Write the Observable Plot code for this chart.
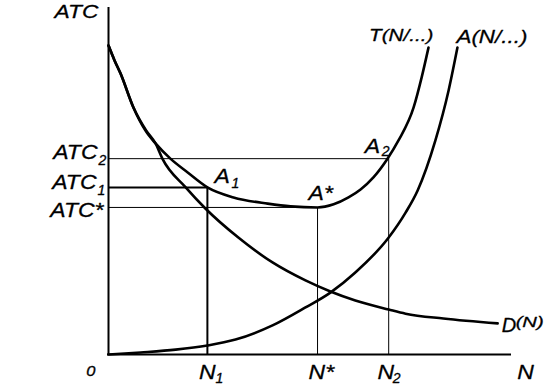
<!DOCTYPE html>
<html><head><meta charset="utf-8">
<script src="https://cdn.jsdelivr.net/npm/d3@7"></script>
<script src="https://cdn.jsdelivr.net/npm/@observablehq/plot@0.6"></script>
<style>html,body{margin:0;padding:0;background:#fff;} #chart svg{display:block;}</style>
</head><body><div id="chart"></div>
<script>
// Curve T(N/...) : average total cost
const tN   = [0, 0.15, 0.30, 0.62, 0.92, 1.17, 1.54, 1.97, 2.46, 3.11, 3.96, 4.53, 5.20, 5.60, 5.97, 6.27, 6.59, 6.94, 7.21, 7.59, 7.79, 7.96];
const tATC = [8.93, 8.50, 8.12, 7.14, 6.47, 6.10, 5.66, 5.26, 4.83, 4.54, 4.36, 4.28, 4.25, 4.34, 4.54, 4.77, 5.12, 5.66, 6.18, 7.14, 8.01, 8.87];
// Curve D(N)
const dN   = [0, 0.15, 0.30, 0.62, 0.94, 1.17, 1.34, 1.92, 2.41, 3.23, 4.08, 4.90, 5.52, 6.14, 6.97, 7.39, 8.33, 9.68];
const dATC = [8.93, 8.50, 8.12, 7.14, 6.47, 6.10, 5.66, 4.83, 4.22, 3.38, 2.66, 2.14, 1.82, 1.56, 1.30, 1.18, 1.04, 0.90];
// Curve A(N/...)
const aN   = [0, 0.80, 1.67, 2.46, 3.16, 4.08, 4.90, 5.52, 6.14, 6.97, 7.39, 7.69, 8.13, 8.46, 8.68];
const aATC = [0, 0.06, 0.14, 0.26, 0.43, 0.84, 1.36, 1.79, 2.37, 3.38, 4.10, 4.74, 6.18, 7.63, 8.87];

// Marked quantities and cost levels
const nMarks   = [2.46, 5.20, 6.97];   // N1, N*, N2
const atcMarks = [4.83, 4.25, 5.66];   // ATC1, ATC*, ATC2
const nMax = 10, atcMax = 10;

// Texts
const axisTitles  = ["ATC", "N", "0"];
const atcNames    = ["ATC", "ATC*", "ATC"];
const atcSubs     = ["1", "", "2"];
const nNames      = ["N", "N*", "N"];
const nSubs       = ["1", "", "2"];
const pointNames  = ["A", "A*", "A"];
const pointSubs   = ["1", "", "2"];
const curveNames  = ["T(N/...)", "A(N/...)", "D", "(N)"];

const tbl = (xs, ys) => xs.map((x, i) => ({x, y: ys[i]}));
const FONT = "'Liberation Sans', Arial, Helvetica, sans-serif";
const stretch = [];

function lab(x, y, text, {dx = 0, dy = 0, size = 20, anchor = "start", sx = 1.15} = {}) {
  stretch.push(sx);
  return Plot.text([0], {
    x: [x], y: [y], text: [text], dx, dy,
    fontSize: size, fontStyle: "italic", textAnchor: anchor,
    lineAnchor: "bottom", fill: "black", stroke: "black", strokeWidth: 0.3,
    fontFamily: FONT
  });
}

const [N1, Ns, N2] = nMarks;
const [A1, As, A2] = atcMarks;

const chart = Plot.plot({
  width: 548, height: 385,
  marginLeft: 108, marginRight: 38, marginTop: 8, marginBottom: 31,
  x: {domain: [0, nMax], axis: null},
  y: {domain: [0, atcMax], axis: null},
  style: {fontFamily: FONT, background: "white", overflow: "visible"},
  marks: [
    // guide lines
    Plot.ruleY([A2], {x1: 0, x2: N2, stroke: "black", strokeWidth: 1}),
    Plot.ruleY([A1], {x1: 0, x2: N1, stroke: "black", strokeWidth: 2}),
    Plot.ruleY([As], {x1: 0, x2: Ns, stroke: "black", strokeWidth: 1}),
    Plot.ruleX([N1], {y1: 0, y2: A1, stroke: "black", strokeWidth: 2}),
    Plot.ruleX([Ns], {y1: 0, y2: As, stroke: "black", strokeWidth: 1}),
    Plot.ruleX([N2], {y1: 0, y2: A2, stroke: "black", strokeWidth: 1}),
    // axes
    Plot.ruleX([0], {y1: 0, y2: atcMax, stroke: "black", strokeWidth: 2, strokeLinecap: "square"}),
    Plot.ruleY([0], {x1: 0, x2: nMax, stroke: "black", strokeWidth: 2, strokeLinecap: "square"}),
    // curves
    Plot.line(tbl(tN, tATC), {x: "x", y: "y", curve: "monotone-x", stroke: "black", strokeWidth: 2.6}),
    Plot.line(tbl(dN, dATC), {x: "x", y: "y", curve: "monotone-x", stroke: "black", strokeWidth: 2.6}),
    Plot.line(tbl(aN, aATC), {x: "x", y: "y", curve: "monotone-x", stroke: "black", strokeWidth: 2.6}),
    // axis titles
    lab(0, atcMax, axisTitles[0], {anchor: "end", dx: -10, dy: 9, size: 19, sx: 1.2}),
    lab(nMax, 0, axisTitles[1], {anchor: "middle", dx: 15, dy: 24}),
    lab(0, 0, axisTitles[2], {anchor: "end", dx: -13, dy: 21, size: 15, sx: 1.1}),
    // ATC level labels
    lab(0, A2, atcNames[2], {anchor: "end", dx: -11, dy: 0}),
    lab(0, A2, atcSubs[2], {anchor: "start", dx: -10, dy: 6, size: 14, sx: 1}),
    lab(0, A1, atcNames[0], {anchor: "end", dx: -12, dy: 2}),
    lab(0, A1, atcSubs[0], {anchor: "start", dx: -11, dy: 8, size: 14, sx: 1}),
    lab(0, As, atcNames[1], {anchor: "end", dx: -5, dy: 10}),
    // N labels
    lab(N1, 0, nNames[0], {anchor: "middle", dx: 0, dy: 24}),
    lab(N1, 0, nSubs[0], {anchor: "start", dx: 8, dy: 28, size: 14, sx: 1}),
    lab(Ns, 0, nNames[1], {anchor: "start", dx: -9, dy: 24}),
    lab(N2, 0, nNames[2], {anchor: "middle", dx: -3, dy: 24}),
    lab(N2, 0, nSubs[2], {anchor: "start", dx: 4, dy: 28, size: 14, sx: 1}),
    // point labels
    lab(N1, A1, pointNames[0], {dx: 7, dy: -4}),
    lab(N1, A1, pointSubs[0], {dx: 24, dy: 1, size: 14, sx: 1}),
    lab(Ns, As, pointNames[1], {dx: -9, dy: -7}),
    lab(N2, A2, pointNames[2], {dx: -24, dy: -6}),
    lab(N2, A2, pointSubs[2], {dx: -7, dy: -3, size: 14, sx: 1}),
    // curve labels
    lab(tN[tN.length - 1], tATC[tATC.length - 1], curveNames[0], {anchor: "end", dx: 5, dy: -7, size: 17, sx: 1.22}),
    lab(aN[aN.length - 1], aATC[aATC.length - 1], curveNames[1], {dx: -1, dy: -5, size: 19, sx: 1.18}),
    lab(dN[dN.length - 1], dATC[dATC.length - 1], curveNames[2], {dx: 4, dy: 9, size: 20, sx: 1}),
    lab(dN[dN.length - 1], dATC[dATC.length - 1], curveNames[3], {dx: 18, dy: 4, size: 15, sx: 1.35})
  ]
});

// stretch label glyphs horizontally about their anchor
d3.select(chart).selectAll("text").each(function(_, i) {
  const sx = stretch[i] ?? 1;
  if (sx === 1) return;
  const el = d3.select(this);
  const dxAttr = el.attr("dx");
  if (dxAttr != null && !isNaN(+dxAttr)) el.attr("dx", +dxAttr / sx);
  const tr = el.attr("transform") || "";
  el.attr("transform", (tr + ` scale(${sx},1)`).trim());
});

document.getElementById("chart").appendChild(chart);
</script>
</body></html>
